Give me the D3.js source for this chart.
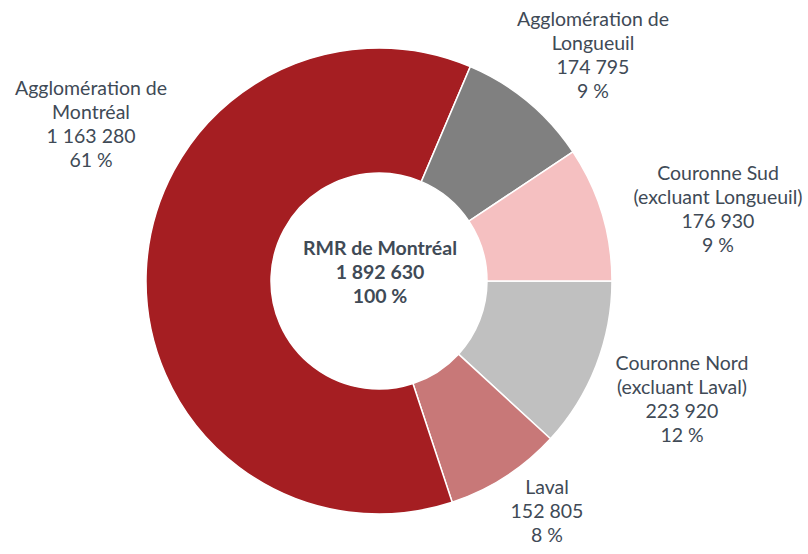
<!DOCTYPE html>
<html><head><meta charset="utf-8">
<script src="https://cdn.jsdelivr.net/npm/d3@7"></script>
<style>body{margin:0;background:#fff}text{font-family:Lato,"Open Sans",sans-serif}</style>
</head><body><svg id="c" width="808" height="554"></svg>
<script>
const categories = ["Couronne Nord|(excluant Laval)", "Laval", "Agglomération de|Montréal", "Agglomération de|Longueuil", "Couronne Sud|(excluant Longueuil)"];
const values = [223920, 152805, 1163280, 174795, 176930];
const percents = ["12 %", "8 %", "61 %", "9 %", "9 %"];
const valueLabels = ["223 920", "152 805", "1 163 280", "174 795", "176 930"];
const colors = ["#C0C0C0", "#C87878", "#A51E22", "#808080", "#F5C0C1"];
const centerLines = ["RMR de Montréal", "1 892 630", "100 %"];
// layout: label centre offsets from pie centre
const labelPos = [[303, 118], [168, 230], [-288, -157], [214, -226], [339, -72]];

const svg = d3.select("#c");
const cx = 379, cy = 281, R = 233, r = 108;
const g = svg.append("g").attr("transform", `translate(${cx},${cy})`);
const pie = d3.pie().sort(null).startAngle(Math.PI / 2).endAngle(Math.PI / 2 + 2 * Math.PI);
const arc = d3.arc().innerRadius(r).outerRadius(R);
g.selectAll("path").data(pie(values)).join("path")
  .attr("d", arc).attr("fill", (d, i) => colors[i])
  .attr("stroke", "#fff").attr("stroke-width", 1.5);

const lh = 24.3, fs = 19.5;
categories.forEach((c, i) => {
  const lines = c.split("|").concat([valueLabels[i], percents[i]]);
  const [dx, dy] = labelPos[i];
  const t = g.append("text").attr("text-anchor", "middle").attr("fill", "#404A56").attr("font-size", fs);
  lines.forEach((l, k) => {
    t.append("tspan").attr("x", dx).attr("y", dy + (k - (lines.length - 1) / 2) * lh + 7).text(l);
  });
});
const ct = g.append("text").attr("text-anchor", "middle").attr("fill", "#404A56").attr("font-size", fs).attr("font-weight", "bold");
centerLines.forEach((l, k) => {
  ct.append("tspan").attr("x", 1).attr("y", (k - 1) * 24 - 9 + 7).text(l);
});
</script></body></html>
